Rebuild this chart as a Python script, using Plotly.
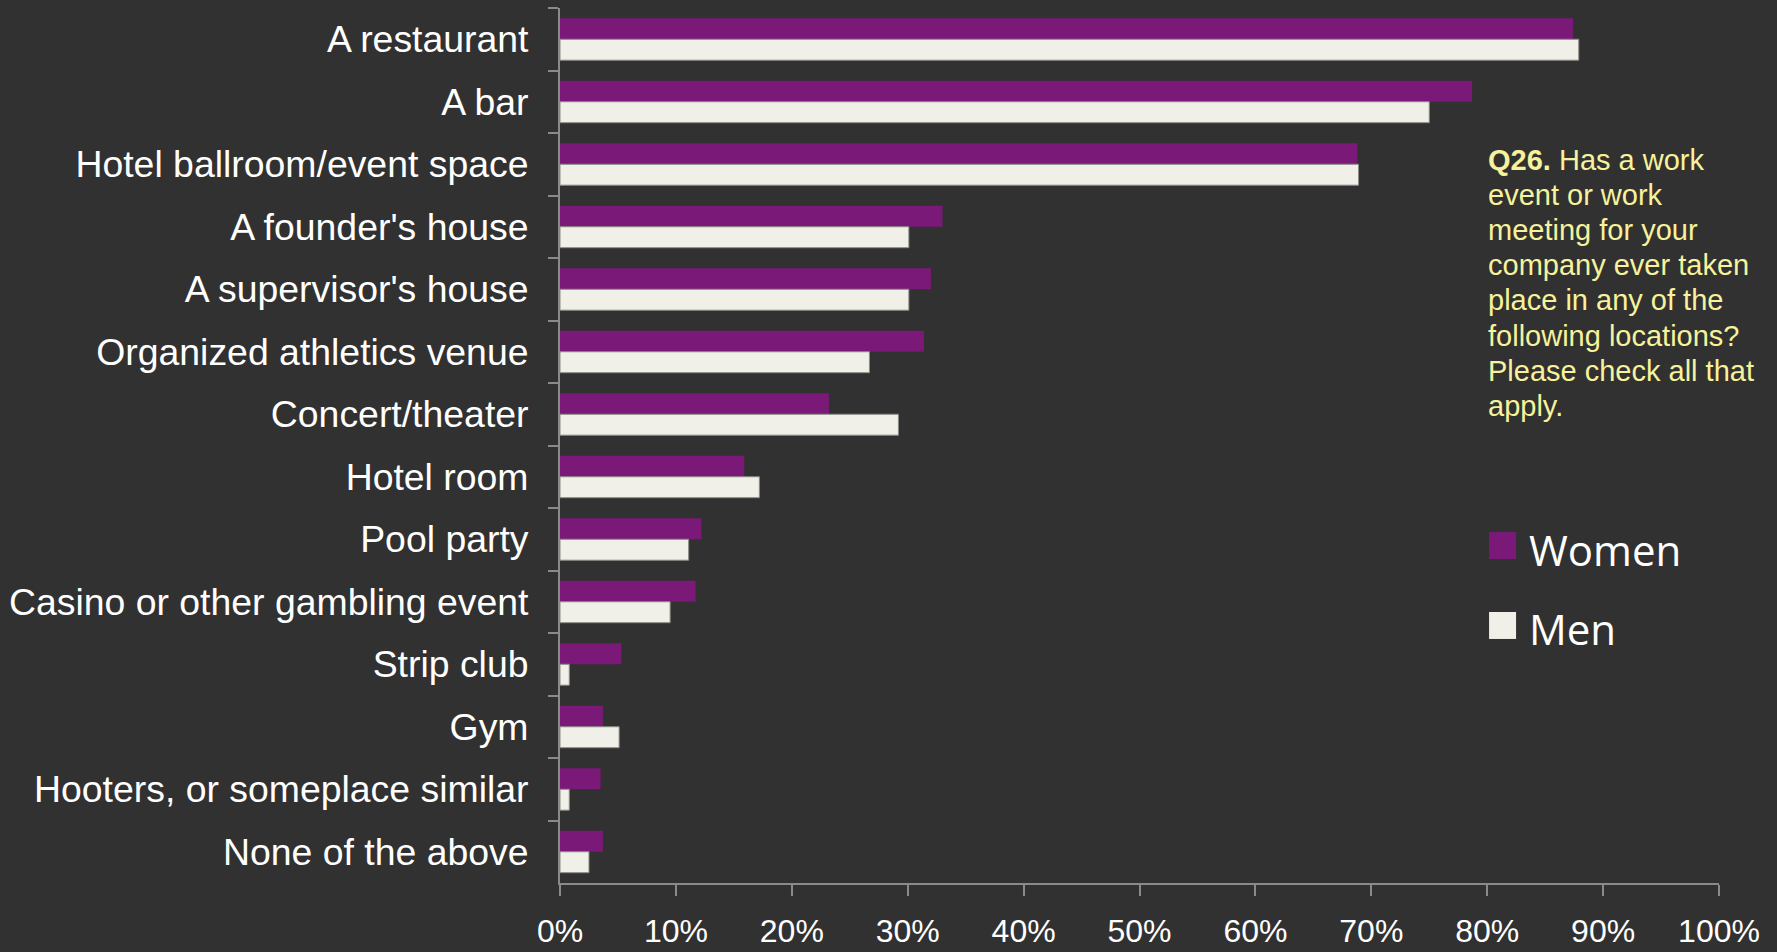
import plotly.graph_objects as go

# Survey locations, top to bottom
categories = [
    "A restaurant",
    "A bar",
    "Hotel ballroom/event space",
    "A founder's house",
    "A supervisor's house",
    "Organized athletics venue",
    "Concert/theater",
    "Hotel room",
    "Pool party",
    "Casino or other gambling event",
    "Strip club",
    "Gym",
    "Hooters, or someplace similar",
    "None of the above",
]

series_names = ["Women", "Men"]

# Share of respondents (%)
women = [87.4, 78.7, 68.8, 33.0, 32.0, 31.4, 23.2, 15.9, 12.2, 11.7, 5.3, 3.7, 3.5, 3.7]
men = [87.9, 75.0, 68.9, 30.1, 30.1, 26.7, 29.2, 17.2, 11.1, 9.5, 0.8, 5.1, 0.8, 2.5]

x_ticks = [0, 10, 20, 30, 40, 50, 60, 70, 80, 90, 100]
x_tick_labels = [f"{v}%" for v in x_ticks]

question_lines = [
    "<b>Q26.</b> Has a work",
    "event or work",
    "meeting for your",
    "company ever taken",
    "place in any of the",
    "following locations?",
    "Please check all that",
    "apply.",
]

BG = "#313131"
PURPLE = "#7b1978"
CREAM = "#f0f0e8"
AXIS = "#8a8a8a"
YELLOW = "#f7f29c"

PLOT_H = 875.0  # plot area height in px, used to place text in paper units

fig = go.Figure()
fig.add_trace(go.Bar(
    y=categories, x=women, name=series_names[0], orientation="h",
    marker=dict(color=PURPLE, line=dict(width=0)),
))
fig.add_trace(go.Bar(
    y=categories, x=men, name=series_names[1], orientation="h",
    marker=dict(color=CREAM, line=dict(color="#8c8c86", width=1)),
))

fig.update_layout(
    width=1777, height=952,
    paper_bgcolor=BG, plot_bgcolor=BG,
    margin=dict(l=560, r=58, t=8, b=69, autoexpand=False),
    barmode="group", bargap=0.33, bargroupgap=0,
    showlegend=False,
    font=dict(family="Liberation Sans, Arial, sans-serif", color="white"),
)

fig.update_yaxes(
    type="category", autorange="reversed", automargin=False,
    showgrid=False, zeroline=False,
    showline=True, linecolor=AXIS, linewidth=2,
    ticks="outside", tickson="boundaries", ticklen=10, tickwidth=2, tickcolor=AXIS,
    ticklabelstandoff=22,
    tickfont=dict(family="Liberation Sans, Arial, sans-serif", size=37.4, color="white"),
)

fig.update_xaxes(
    range=[0, 100], automargin=False,
    tickvals=x_ticks, ticktext=x_tick_labels,
    showgrid=False, zeroline=False,
    showline=True, linecolor=AXIS, linewidth=2,
    ticks="outside", ticklen=11, tickwidth=1.5, tickcolor=AXIS,
    ticklabelstandoff=8,
    tickfont=dict(family="Liberation Sans, Arial, sans-serif", size=32, color="white"),
)

# Question text, one line per annotation for tight line spacing
line_px = 35.1
first_top_px = 143.0
for i, line in enumerate(question_lines):
    top_px = first_top_px + i * line_px
    fig.add_annotation(
        xref="paper", yref="paper", x=0.7998, y=(883.0 - top_px) / PLOT_H,
        xanchor="left", yanchor="top", align="left", showarrow=False, borderpad=0,
        text=line,
        font=dict(family="Liberation Sans, Arial, sans-serif", size=29, color=YELLOW),
    )

# Legend swatches and labels
legend_rows = [(series_names[0], PURPLE, 0.3703, 0.4011, 0.381),
               (series_names[1], CREAM, 0.2789, 0.3097, 0.2914)]
for name, color, y0, y1, ytxt in legend_rows:
    fig.add_shape(type="rect", xref="paper", yref="paper",
                  x0=0.8016, x1=0.8249, y0=y0, y1=y1,
                  fillcolor=color, line=dict(width=0))
    fig.add_annotation(
        xref="paper", yref="paper", x=0.8352, y=ytxt,
        xanchor="left", yanchor="middle", showarrow=False, borderpad=0,
        text=name,
        font=dict(family="Open Sans, sans-serif", size=42, color="white"),
    )

fig.write_html("out.html")
